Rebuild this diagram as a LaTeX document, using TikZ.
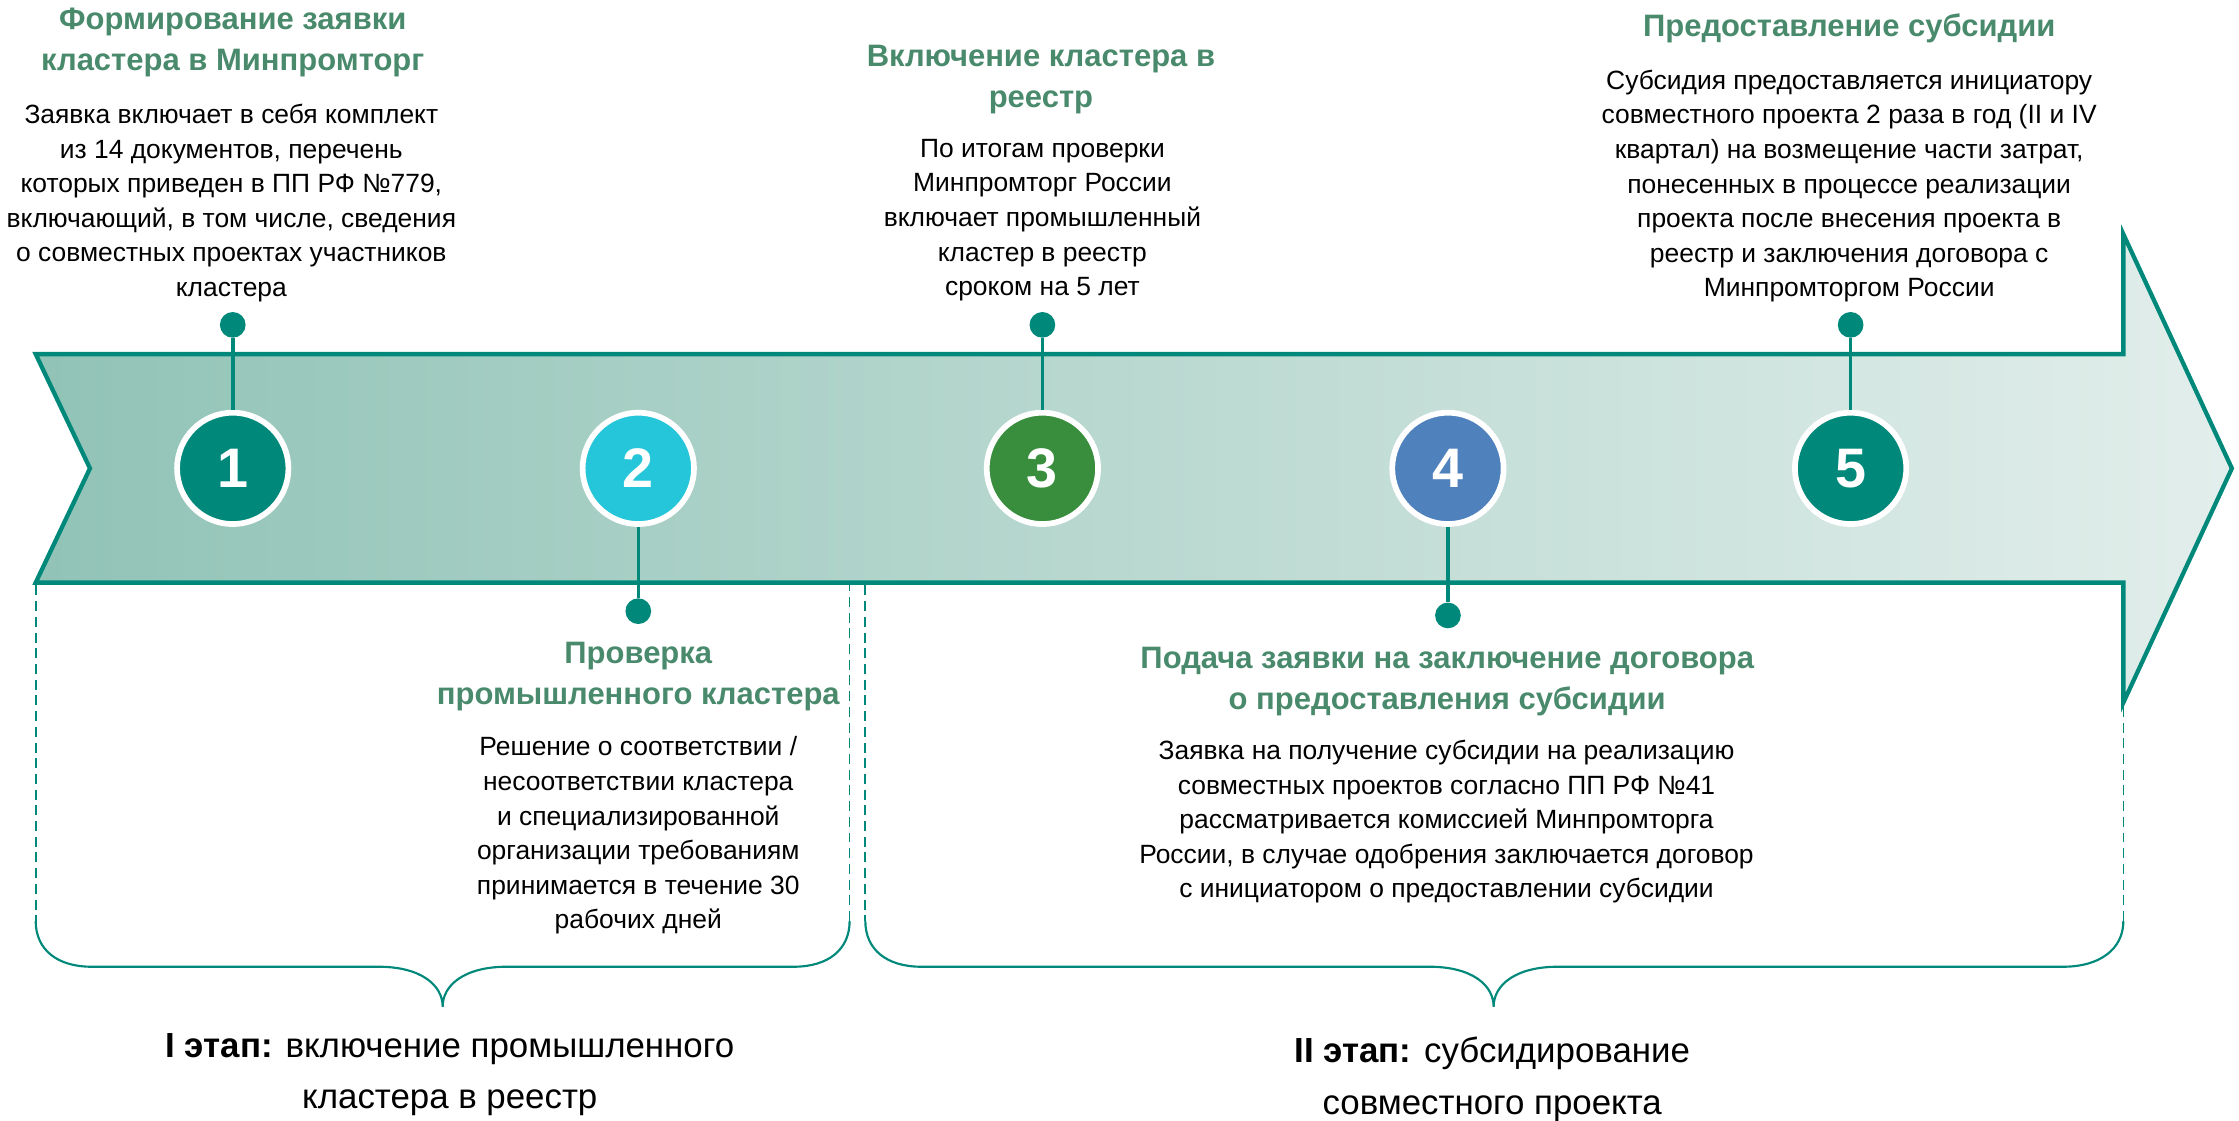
\documentclass[tikz,border=0pt]{standalone}
\usepackage{fontspec}
\setmainfont{Liberation Sans}
\definecolor{teal1}{HTML}{00897B}
\definecolor{cyan1}{HTML}{26C6DA}
\definecolor{green1}{HTML}{388E3C}
\definecolor{blue1}{HTML}{4F81BD}
\definecolor{titlegreen}{HTML}{4A8A6C}
\definecolor{bandL}{HTML}{91C3B6}
\definecolor{bandR}{HTML}{E2EEEB}
\newcommand\fl{\rule{0pt}{0.8em}}
\tikzset{
  titletext/.style={inner sep=0pt, anchor=north, align=center, text=titlegreen, font=\bfseries\fontsize{21.7}{28.5}\selectfont},
  bodytext/.style={inner sep=0pt, anchor=north, align=center, text=black, font=\fontsize{18.5}{24.2}\selectfont},
  stagetext/.style={inner sep=0pt, anchor=north, align=center, text=black, font=\fontsize{24.4}{36}\selectfont},
  numcircle/.style={circle, minimum size=78pt, inner sep=0pt, draw=white, line width=4pt, text=white, font=\bfseries\fontsize{39}{39}\selectfont},
  dotmark/.style={circle, fill=teal1, minimum size=18pt, inner sep=0pt},
  link/.style={draw=teal1, line width=2.5pt},
  bracesolid/.style={draw=teal1, line width=1.5pt},
  bracedash/.style={draw=teal1, line width=1.2pt, dash pattern=on 7pt off 4pt},
}
\begin{document}
\begin{tikzpicture}[x=1pt,y=-1pt]
\useasboundingbox (0,0) rectangle (1568,785);
% band arrow
\path[left color=bandL, right color=bandR, draw=teal1, line width=3pt, line join=miter]
  (25,248) -- (1487,248) -- (1487,164) -- (1563,328) -- (1487,492) -- (1487,408) -- (25,408) -- (63,328) -- cycle;
% circles
\node[numcircle, fill=teal1] (c1) at (163,328) {1};
\node[numcircle, fill=cyan1] (c2) at (447,328) {2};
\node[numcircle, fill=green1] (c3) at (730,328) {3};
\node[numcircle, fill=blue1] (c4) at (1014,328) {4};
\node[numcircle, fill=teal1] (c5) at (1296,328) {5};
% dots
\node[dotmark] (d1) at (163,227.5) {};
\node[dotmark] (d2) at (447,428) {};
\node[dotmark] (d3) at (730,227.5) {};
\node[dotmark] (d4) at (1014,431) {};
\node[dotmark] (d5) at (1296,227.5) {};
\path[link] (d1) -- (c1);
\path[link] (d2) -- (c2);
\path[link] (d3) -- (c3);
\path[link] (d4) -- (c4);
\path[link] (d5) -- (c5);
% texts
\node[titletext] (t1) at (163,3.2) {\fl Формирование заявки\\кластера в Минпромторг};
\node[bodytext] (b1) at (162,71.5) {\fl Заявка включает в себя комплект\\из 14 документов, перечень\\которых приведен в ПП РФ №779,\\включающий, в том числе, сведения\\о совместных проектах участников\\кластера};
\node[titletext] (t3) at (729,29.1) {\fl Включение кластера в\\реестр};
\node[bodytext] (b3) at (730,95.2) {\fl По итогам проверки\\Минпромторг России\\включает промышленный\\кластер в реестр\\сроком на 5 лет};
\node[titletext] (t5) at (1295,7.7) {\fl Предоставление субсидии};
\node[bodytext] (b5) at (1295,47.6) {\fl Субсидия предоставляется инициатору\\совместного проекта 2 раза в год (II и IV\\квартал) на возмещение части затрат,\\понесенных в процессе реализации\\проекта после внесения проекта в\\реестр и заключения договора с\\Минпромторгом России};
\node[titletext] (t2) at (447,447.3) {\fl Проверка\\промышленного кластера};
\node[bodytext] (b2) at (447,514.4) {\fl Решение о соответствии /\\несоответствии кластера\\и специализированной\\организации требованиям\\принимается в течение 30\\рабочих дней};
\node[titletext] (t4) at (1013.5,450.7) {\fl Подача заявки на заключение договора\\о предоставления субсидии};
\node[bodytext] (b4) at (1013,517) {\fl Заявка на получение субсидии на реализацию\\совместных проектов согласно ПП РФ №41\\рассматривается комиссией Минпромторга\\России, в случае одобрения заключается договор\\с инициатором о предоставлении субсидии};
\node[stagetext] (s1) at (315,720.5) {\fl\textbf{I этап:} включение промышленного\\кластера в реестр};
\node[stagetext] (s2) at (1045,724.5) {\fl\textbf{II этап:} субсидирование\\совместного проекта};
% braces
\path[bracedash] (25,410) -- (25,645);
\path[bracesolid] (25,645) .. controls (25,665) and (40,677) .. (64,677) -- (265,677)
  .. controls (295,677) and (310,690) .. (310,705)
  .. controls (310,690) and (325,677) .. (355,677) -- (556,677)
  .. controls (580,677) and (595,665) .. (595,645);
\path[bracedash] (595,645) -- (595,410);
\path[bracedash] (606,410) -- (606,645);
\path[bracesolid] (606,645) .. controls (606,665) and (621,677) .. (645,677) -- (1001,677)
  .. controls (1031,677) and (1046,690) .. (1046,705)
  .. controls (1046,690) and (1061,677) .. (1091,677) -- (1445,677)
  .. controls (1470,677) and (1487,665) .. (1487,645);
\path[bracedash] (1487,645) -- (1487,493);
\end{tikzpicture}
\end{document}
